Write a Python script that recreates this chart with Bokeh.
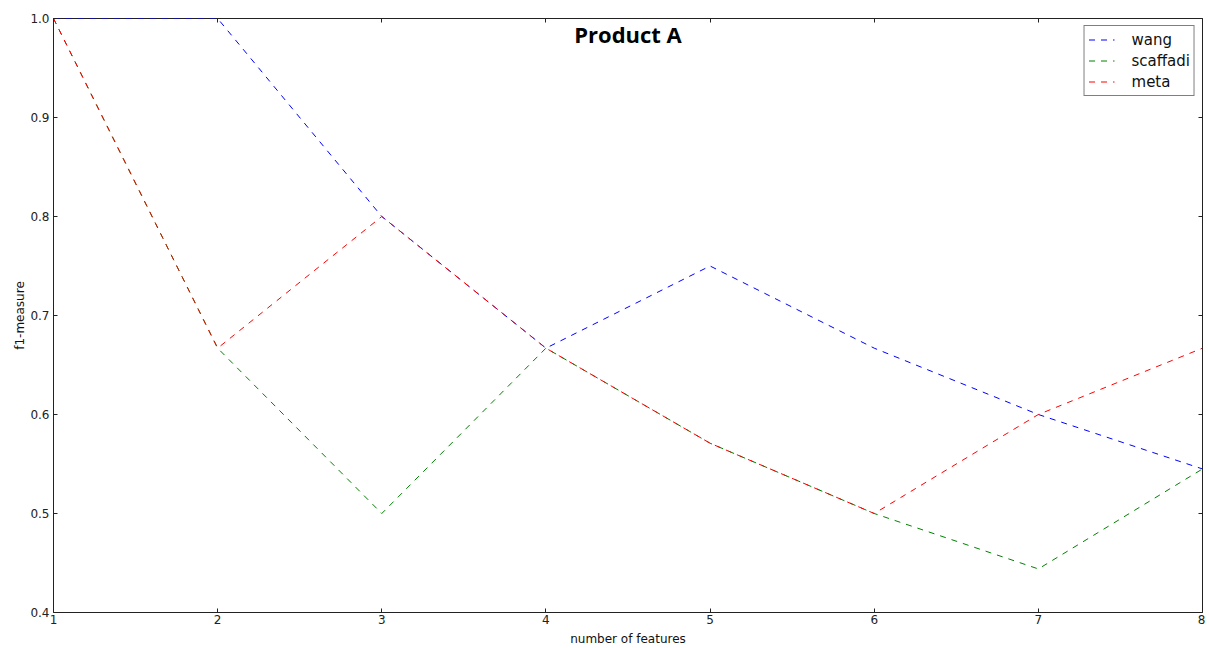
from bokeh.plotting import figure
from bokeh.models import LinearAxis, FixedTicker, Label, Legend, LegendItem, Range1d
from bokeh.embed import file_html
from bokeh.resources import INLINE

features = [1, 2, 3, 4, 5, 6, 7, 8]
wang = [1.0, 1.0, 0.8, 0.667, 0.75, 0.667, 0.6, 0.545]
scaffadi = [1.0, 0.667, 0.5, 0.667, 0.571, 0.5, 0.444, 0.545]
meta = [1.0, 0.667, 0.8, 0.667, 0.571, 0.5, 0.6, 0.667]
x_ticks = [1, 2, 3, 4, 5, 6, 7, 8]
y_ticks = [0.4, 0.5, 0.6, 0.7, 0.8, 0.9, 1.0]

FONT = "DejaVu Sans"

p = figure(width=1205, height=648, output_backend="svg", toolbar_location=None,
           x_range=Range1d(1, 8), y_range=Range1d(0.4, 1.0),
           x_axis_label="number of features", y_axis_label="f1-measure",
           min_border_left=53, min_border_right=3, min_border_top=18, min_border_bottom=35)
p.xgrid.visible = False
p.ygrid.visible = False
p.outline_line_color = "#222222"
p.outline_line_width = 1
p.background_fill_color = "white"
p.border_fill_color = "white"

for ax, ticks in ((p.xaxis[0], x_ticks), (p.yaxis[0], y_ticks)):
    ax.ticker = FixedTicker(ticks=ticks)
    ax.major_tick_in = 4
    ax.major_tick_out = 0
    ax.minor_tick_line_color = None
    ax.axis_line_color = None
    ax.major_tick_line_color = "#222222"
    ax.major_label_text_font = FONT
    ax.major_label_text_font_size = "12px"
    ax.major_label_text_color = "#222222"
    ax.axis_label_text_font = FONT
    ax.axis_label_text_font_size = "12px"
    ax.axis_label_text_font_style = "normal"
    ax.axis_label_text_color = "#111111"
p.xaxis[0].major_label_standoff = 2
p.xaxis[0].axis_label_standoff = 5
p.yaxis[0].major_label_standoff = 4
p.yaxis[0].axis_label_standoff = 0
p.yaxis[0].major_label_overrides = {0.4: "0.4", 0.5: "0.5", 0.6: "0.6", 0.7: "0.7", 0.8: "0.8", 0.9: "0.9", 1.0: "1.0"}

top = LinearAxis(ticker=FixedTicker(ticks=x_ticks), major_tick_in=4, major_tick_out=0,
                 minor_tick_line_color=None, axis_line_color=None,
                 major_label_overrides={t: "" for t in x_ticks},
                 major_tick_line_color="#222222", major_label_standoff=0)
right = LinearAxis(ticker=FixedTicker(ticks=y_ticks), major_tick_in=4, major_tick_out=0,
                   minor_tick_line_color=None, axis_line_color=None,
                   major_label_overrides={t: "" for t in y_ticks},
                   major_tick_line_color="#222222", major_label_standoff=0)
p.add_layout(top, "above")
p.add_layout(right, "right")

r_w = p.line(features, wang, line_color="blue", line_dash="6 6", line_width=1)
r_s = p.line(features, scaffadi, line_color="green", line_dash="6 6", line_width=1)
r_m = p.line(features, meta, line_color="red", line_dash="6 6", line_width=1)

legend = Legend(items=[LegendItem(label="wang", renderers=[r_w]),
                       LegendItem(label="scaffadi", renderers=[r_s]),
                       LegendItem(label="meta", renderers=[r_m])],
                location="top_right", border_line_color="black", border_line_width=1,
                label_text_font=FONT, label_text_font_size="15px", label_text_color="#111111",
                glyph_width=26, label_standoff=17, padding=4, spacing=2, margin=7,
                label_height=19, glyph_height=19)
p.add_layout(legend)

title = Label(x=4.5, y=1.0, text="Product A", text_align="center", text_baseline="top",
              y_offset=0, text_font="Open Sans", text_font_style="bold", text_font_size="22px",
              text_color="black")
p.add_layout(title)

open("out.html", "w").write(file_html(p, INLINE))
